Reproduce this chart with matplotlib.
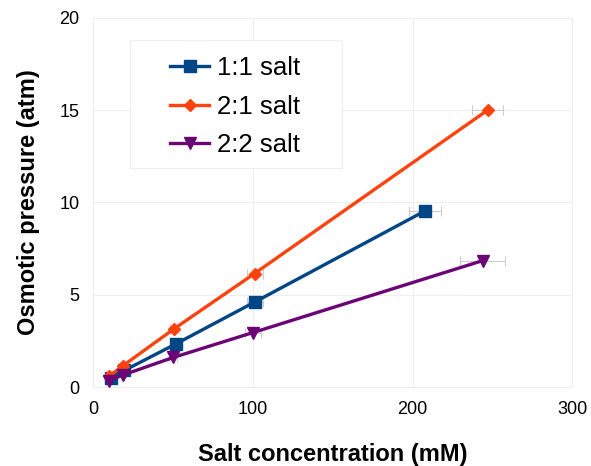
import matplotlib
matplotlib.use("Agg")
import matplotlib.pyplot as plt
from matplotlib.patches import Rectangle

plt.rcParams['font.family'] = ['Liberation Sans', 'DejaVu Sans']

# data
conc_11 = [11, 19.5, 52, 101, 208]
pres_11 = [0.5, 0.9, 2.35, 4.6, 9.55]
xerr_11 = [0.5, 1, 2.5, 5, 10]

conc_21 = [10, 18.5, 50.5, 101, 247]
pres_21 = [0.6, 1.15, 3.15, 6.15, 15.0]
xerr_21 = [0.5, 1, 2.5, 5, 10]

conc_22 = [10, 18.5, 50, 100, 244]
pres_22 = [0.35, 0.65, 1.6, 2.95, 6.85]
xerr_22 = [0.5, 1, 2.5, 5, 14]

labels = ['1:1 salt', '2:1 salt', '2:2 salt']

fig = plt.figure(figsize=(5.91, 4.66), dpi=100)
ax = fig.add_axes([0.158, 0.1695, 0.81, 0.792])

series = [
    (conc_11, pres_11, xerr_11, '#004586', 's', 9),
    (conc_21, pres_21, xerr_21, '#ff420e', 'D', 6.5),
    (conc_22, pres_22, xerr_22, '#6b0575', 'v', 9),
]
for (xs, ys, xe, col, mk, ms), lab in zip(series, labels):
    ax.errorbar(xs, ys, xerr=xe, fmt='none', ecolor='#cccccc',
                elinewidth=0.8, capsize=3.5, capthick=0.8, zorder=2)
    ax.plot(xs, ys, color=col, marker=mk, markersize=ms, linewidth=2.4,
            label=lab, zorder=3)

ax.set_xlim(0, 300)
ax.set_ylim(0, 20)
ax.set_xticks([0, 100, 200, 300])
ax.set_yticks([0, 5, 10, 15, 20])
ax.grid(True, color='#eeeeee', linewidth=0.8)
ax.set_axisbelow(True)
for s in ax.spines.values():
    s.set_color('#eeeeee')
ax.tick_params(length=0, labelsize=13, pad=10)

ax.set_xlabel('Salt concentration (mM)', fontsize=17, fontweight='bold', labelpad=18)
ax.set_ylabel('Osmotic pressure (atm)', fontsize=17, fontweight='bold', labelpad=14)

# legend box (drawn separately so it can have wide side padding)
ax.add_patch(Rectangle((0.077, 0.593), 0.443, 0.347, transform=ax.transAxes,
                       facecolor='white', edgecolor='#eeeeee', linewidth=0.8,
                       zorder=4))
leg = ax.legend(loc='upper left', bbox_to_anchor=(0.161, 0.896), borderaxespad=0,
                borderpad=0, fontsize=18.5, frameon=False, handlelength=1.5,
                handletextpad=0.3, labelspacing=0.56)
leg.set_zorder(5)

fig.savefig('out.png', dpi=100)
